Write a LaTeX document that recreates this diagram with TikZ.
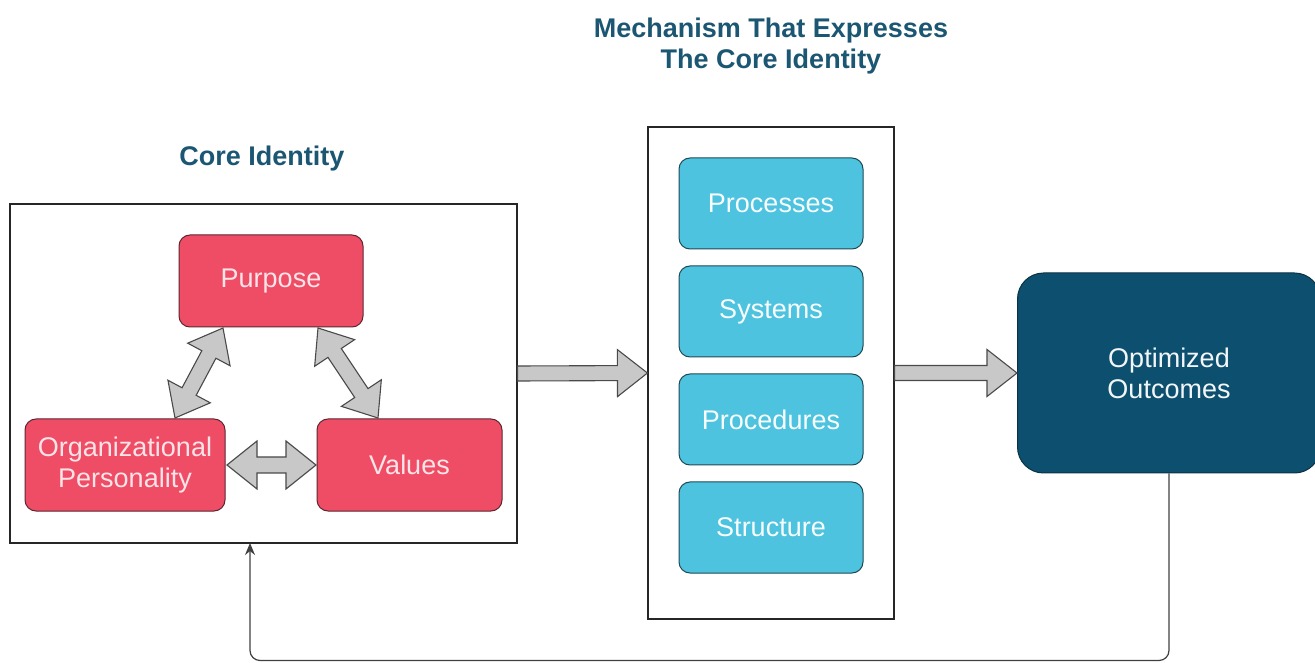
\documentclass[tikz,border=0pt]{standalone}
\usepackage{fontspec}
\setmainfont{Liberation Sans}
\usetikzlibrary{calc,arrows.meta}

\definecolor{titleblue}{HTML}{1B5673}
\definecolor{rosefill}{HTML}{EF4D65}
\definecolor{roseline}{HTML}{5E2630}
\definecolor{rosetext}{HTML}{FDE4E8}
\definecolor{cyanfill}{HTML}{4DC3DF}
\definecolor{cyanline}{HTML}{1E4A55}
\definecolor{navyfill}{HTML}{0D4F6E}
\definecolor{navyline}{HTML}{0A3346}
\definecolor{arrowfill}{HTML}{C8C8C8}
\definecolor{arrowline}{HTML}{4A4A4A}

\tikzset{
  txt/.style={font=\fontsize{27}{31}\selectfont, align=center},
  heading/.style={txt, font=\fontsize{27}{31}\selectfont\bfseries, text=titleblue},
  frame/.style={draw=black!85, line width=1.1pt, fill=white, inner sep=0pt},
  rosebox/.style={txt, draw=roseline, line width=1pt, fill=rosefill, text=rosetext,
    rounded corners=11pt, inner sep=0pt, minimum height=92pt},
  cyanbox/.style={txt, draw=cyanline, line width=1pt, fill=cyanfill, text=white!96!cyanfill,
    rounded corners=11pt, inner sep=0pt, minimum width=184pt, minimum height=91pt},
  navybox/.style={txt, draw=navyline, line width=1pt, fill=navyfill, text=white!95!navyfill,
    rounded corners=26pt, inner sep=0pt, minimum width=303pt, minimum height=200pt},
  blockarrow/.style={draw=arrowline, fill=arrowfill, line width=1.1pt, line join=miter},
  % double-headed block arrow between two tips
  dblhead/.style={to path={
    -- ($(\tikztostart)!30pt!(\tikztotarget)!24pt!90:(\tikztotarget)$)
    -- ($(\tikztostart)!30pt!(\tikztotarget)!8pt!90:(\tikztotarget)$)
    -- ($(\tikztotarget)!30pt!(\tikztostart)!8pt!-90:(\tikztostart)$)
    -- ($(\tikztotarget)!30pt!(\tikztostart)!24pt!-90:(\tikztostart)$)
    -- (\tikztotarget)
    -- ($(\tikztotarget)!30pt!(\tikztostart)!24pt!90:(\tikztostart)$)
    -- ($(\tikztotarget)!30pt!(\tikztostart)!8pt!90:(\tikztostart)$)
    -- ($(\tikztostart)!30pt!(\tikztotarget)!8pt!-90:(\tikztotarget)$)
    -- ($(\tikztostart)!30pt!(\tikztotarget)!24pt!-90:(\tikztotarget)$)
    -- cycle}},
  % single-headed block arrow from a tail point to a tip
  snghead/.style={to path={
    ($(\tikztostart)!7.5pt!90:(\tikztotarget)$)
    -- ($(\tikztotarget)!30pt!(\tikztostart)!7.5pt!-90:(\tikztostart)$)
    -- ($(\tikztotarget)!30pt!(\tikztostart)!23.5pt!-90:(\tikztostart)$)
    -- (\tikztotarget)
    -- ($(\tikztotarget)!30pt!(\tikztostart)!23.5pt!90:(\tikztostart)$)
    -- ($(\tikztotarget)!30pt!(\tikztostart)!7.5pt!90:(\tikztostart)$)
    -- ($(\tikztostart)!7.5pt!-90:(\tikztotarget)$)
    -- cycle}},
  feedback/.style={draw=black!75, line width=1.2pt, rounded corners=10pt,
    -{Stealth[length=12pt,width=10pt]}}
}

\begin{document}
\begin{tikzpicture}[x=1pt,y=1pt]
\useasboundingbox (0,0) rectangle (1315,662);

% headings
\node[heading] (coretitle) at (262,503) {Core Identity};
\node[heading] (mechtitle) at (771,616) {Mechanism That Expresses\\The Core Identity};

% core identity frame and its three elements
\node[frame, minimum width=507pt, minimum height=339pt] (core) at (263.5,288.5) {};
\node[rosebox, minimum width=184pt] (purpose) at (271,381) {Purpose};
\node[rosebox, minimum width=200pt] (persona) at (125,197) {Organizational\\Personality};
\node[rosebox, minimum width=185pt] (values) at (409.5,197) {Values};

\coordinate (pu-a) at (223,334);
\coordinate (pe-a) at (175,244);
\coordinate (pu-b) at (318,334);
\coordinate (va-b) at (378,244);
\coordinate (pe-c) at (227,197);
\coordinate (va-c) at (316,197);
\path[blockarrow] (pu-a) to[dblhead] (pe-a);
\path[blockarrow] (pu-b) to[dblhead] (va-b);
\path[blockarrow] (pe-c) to[dblhead] (va-c);

% mechanism column
\node[frame, minimum width=246pt, minimum height=492pt] (mech) at (771,289) {};
\node[cyanbox] (processes) at (771,458.5) {Processes};
\node[cyanbox] (systems) at (771,350.5) {Systems};
\node[cyanbox] (procedures) at (771,242.5) {Procedures};
\node[cyanbox] (structure) at (771,134.5) {Structure};

% outcome
\node[navybox] (outcome) at (1169,289) {Optimized\\Outcomes};

% flow between the stages
\path[blockarrow] (core.east) to[snghead] (mech.west);
\path[blockarrow] (mech.east) to[snghead] (outcome.west);

% feedback loop back to the core identity
\coordinate (fb-in) at (250,119);
\coordinate (fb-low) at (250,1.5);
\draw[feedback] (outcome.south) |- (fb-low) -- (fb-in);
\end{tikzpicture}
\end{document}
